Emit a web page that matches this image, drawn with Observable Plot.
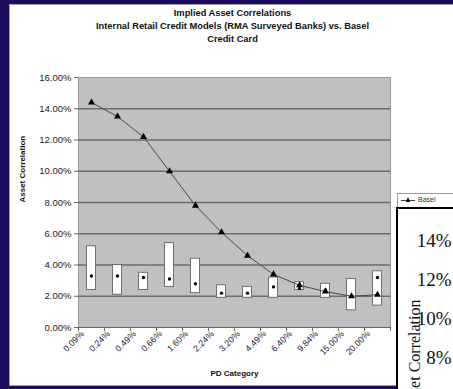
<!DOCTYPE html>
<html>
<head>
<meta charset="utf-8">
<script src="https://cdn.jsdelivr.net/npm/d3@7"></script>
<script src="https://cdn.jsdelivr.net/npm/@observablehq/plot@0.6"></script>
<style>
  html, body { margin: 0; padding: 0; width: 453px; height: 389px; overflow: hidden; background: #1d0c5c; }
  #panel { position: absolute; left: 9px; top: 4px; width: 470px; height: 382px; background: #fff; border: 1px solid #a0a0a0; box-sizing: border-box; }
  #main { position: absolute; left: 0; top: 0; width: 453px; }
  #legend { position: absolute; left: 397px; top: 193px; width: 70px; height: 16px; background: #fff; border: 1px solid #9a9a9a; box-sizing: border-box; font: 7px Arial, "Liberation Sans", sans-serif; color: #333; padding-left: 3px; line-height: 12px; white-space: nowrap; }
  #legend .key { display: inline-block; position: relative; width: 14px; height: 8px; vertical-align: middle; margin-right: 3px; }
  #legend .key::before { content: ""; position: absolute; left: 0; right: 0; top: 4px; border-top: 1px solid #444; }
  #legend .key::after { content: ""; position: absolute; left: 5px; top: 1px; border-left: 2.5px solid transparent; border-right: 2.5px solid transparent; border-bottom: 5px solid #000; }
  #inset { position: absolute; left: 396px; top: 207px; width: 70px; height: 200px; }
  svg { max-width: none !important; }
</style>
</head>
<body>
<div id="panel"></div>
<div id="main"></div>
<div id="legend"><span class="key"></span>Basel</div>
<div id="inset"></div>
<script>
// PD categories along the x axis
const categories = ["0.09%", "0.24%", "0.49%", "0.66%", "1.60%", "2.24%", "3.20%", "4.49%", "6.40%", "9.84%", "15.00%", "20.00%"];
// Basel implied asset correlation (%) per PD category
const baselCorr = [14.4, 13.5, 12.2, 10.0, 7.8, 6.1, 4.6, 3.4, 2.7, 2.3, 2.0, 2.1];
// Internal model range (low / high) and mean (%) per PD category
const modelLow  = [2.4, 2.1, 2.4, 2.6, 2.2, 1.9, 1.9, 1.9, 2.4, 1.9, 1.1, 1.4];
const modelHigh = [5.2, 4.0, 3.5, 5.4, 4.4, 2.7, 2.6, 3.2, 2.9, 2.8, 3.1, 3.6];
const modelMean = [3.3, 3.3, 3.2, 3.1, 2.8, 2.2, 2.2, 2.6, 2.5, 2.4, 2.0, 3.2];
// y axis tick values (%)
const yTicks = [0, 2, 4, 6, 8, 10, 12, 14, 16];
// titles
const titleLines = ["Implied Asset Correlations", "Internal Retail Credit Models (RMA Surveyed Banks) vs. Basel", "Credit Card"];
const xTitle = "PD Category";
const yTitle = "Asset Correlation";
// second chart's axis ticks (partly visible on the right)
const insetTicks = [8, 10, 12, 14];
const insetTitle = "Asset Correlation";

const rows = categories.map((c, i) => ({
  category: c, basel: baselCorr[i], low: modelLow[i], high: modelHigh[i], mean: modelMean[i]
}));

const font = "Arial, 'Liberation Sans', sans-serif";

const main = Plot.plot({
  width: 453, height: 389,
  marginLeft: 78, marginRight: 63, marginTop: 77, marginBottom: 62,
  style: { background: "transparent", fontFamily: font, overflow: "visible", color: "#222" },
  x: { type: "band", domain: categories, padding: 0 },
  y: { domain: [0, 16] },
  marks: [
    Plot.frame({ fill: "#c0c0c0", stroke: "#9a9a9a" }),
    Plot.ruleY(yTicks.filter(v => v > 0 && v < 16), { stroke: "#6c6c6c", strokeWidth: 1.5 }),
    Plot.ruleY([0], { stroke: "#666" }),
    Plot.ruleX([0], { frameAnchor: "left", stroke: "#777" }),
    Plot.barY(rows, { x: "category", y1: "low", y2: "high", fill: "white", stroke: "#6f6f6f", strokeWidth: 1, insetLeft: 8.5, insetRight: 8.5 }),
    Plot.line(rows, { x: "category", y: "basel", stroke: "#4a4a4a", strokeWidth: 1 }),
    Plot.dot(rows, { x: "category", y: "basel", symbol: "triangle", fill: "black", r: 2.6 }),
    Plot.dot(rows, { x: "category", y: "mean", fill: "black", r: 1.7 }),
    // tick marks at category boundaries
    Plot.ruleX(categories, { x: d => d, dx: -13, y1: 0, y2: -0.25, stroke: "#666" }),
    Plot.ruleX(categories.slice(-1), { x: d => d, dx: 13, y1: 0, y2: -0.25, stroke: "#666" }),
    Plot.axisY({ ticks: yTicks, tickFormat: d => d.toFixed(2) + "%", tickSize: 4, tickPadding: 3, fontSize: 9.5, label: null, stroke: "#666" }),
    Plot.axisX({ tickSize: 0, tickRotate: -45, textAnchor: "end", tickPadding: 5, dx: -9, fontSize: 8.8, label: null }),
    Plot.text([titleLines.join("\n")], { frameAnchor: "top", dx: -2, dy: -70, lineAnchor: "top", lineHeight: 1.35, fontSize: 9.3, fontWeight: "bold", fill: "#111" }),
    Plot.text([xTitle], { frameAnchor: "bottom", dy: 48, fontSize: 8, fontWeight: "bold", fill: "#111" }),
    Plot.text([yTitle], { frameAnchor: "left", dx: -56, rotate: -90, fontSize: 8, fontWeight: "bold", fill: "#111" })
  ]
});
document.getElementById("main").append(main);

// Neighbouring chart, only its upper-left corner fits in the window
const inset = Plot.plot({
  width: 70, height: 200,
  marginLeft: 0, marginRight: 0, marginTop: 0, marginBottom: 0,
  style: { background: "white", fontFamily: "'Liberation Serif', 'DejaVu Serif', serif", overflow: "hidden", color: "#111" },
  y: { domain: [5.5, 15.68] },
  marks: [
    Plot.frame({ stroke: "black", strokeWidth: 3 }),
    Plot.text(insetTicks, { y: d => d, text: d => d + "%", frameAnchor: "right", textAnchor: "end", dx: -15, fontSize: 19, fill: "#111" }),
    Plot.text([insetTitle], { frameAnchor: "top-left", dx: 12, dy: 92, rotate: -90, textAnchor: "end", fontSize: 16, fill: "#111" })
  ]
});
document.getElementById("inset").append(inset);
</script>
</body>
</html>
